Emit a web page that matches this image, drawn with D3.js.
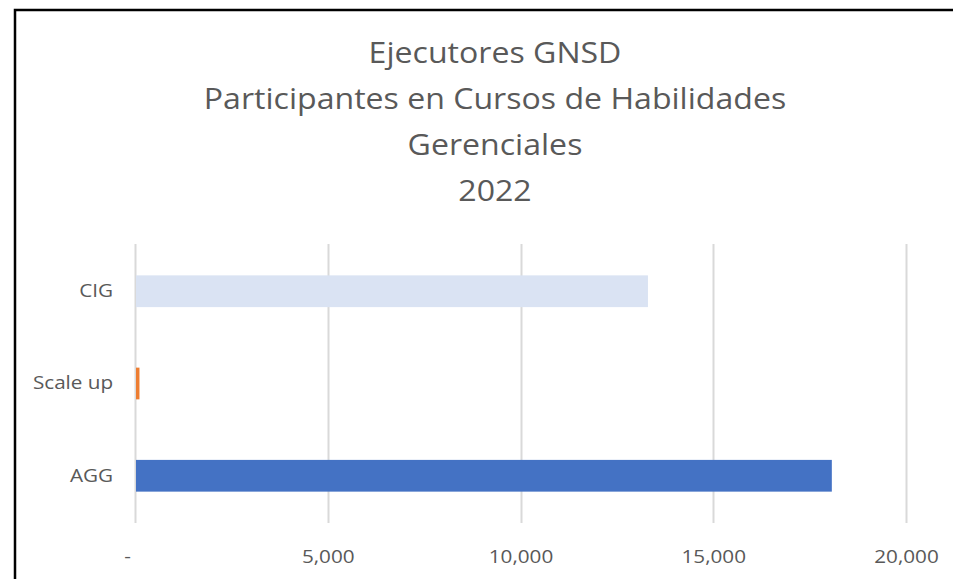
<!DOCTYPE html>
<html>
<head>
<meta charset="utf-8">
<script src="https://cdn.jsdelivr.net/npm/d3@7"></script>
<style>
  body { margin: 0; background: #fff; }
  svg { display: block; font-family: "Open Sans", "Noto Sans", sans-serif; }
</style>
</head>
<body>
<div id="chart"></div>
<script>
// Chart data
const titleLines = ['Ejecutores GNSD', 'Participantes en Cursos de Habilidades', 'Gerenciales', '2022'];
const categories = ['CIG', 'Scale up', 'AGG'];
const values = [13280, 90, 18050];
const barColors = ['#DAE3F3', '#ED7D31', '#4472C4'];
const tickValues = [0, 5000, 10000, 15000, 20000];

const width = 953, height = 579;
const margin = { top: 244, right: 47, bottom: 56, left: 135 };
const innerW = width - margin.left - margin.right;
const innerH = height - margin.top - margin.bottom;
const textStretch = 1.15;

const svg = d3.select('#chart')
    .append('svg')
    .attr('width', width)
    .attr('height', height);

// frame (screenshot border)
svg.append('path')
    .attr('d', `M15,${height + 5} L15,10 L${width + 5},10`)
    .attr('fill', 'none')
    .attr('stroke', '#000')
    .attr('stroke-width', 2.5);

// Title
svg.append('g')
    .attr('transform', 'translate(495,0)')
    .selectAll('text')
    .data(titleLines)
    .enter()
    .append('text')
    .attr('x', 0)
    .attr('y', (d, i) => 63 + i * 46)
    .attr('text-anchor', 'middle')
    .attr('transform', 'scale(1.07,1)')
    .style('font-size', '30px')
    .style('fill', '#595959')
    .text(d => d);

const g = svg.append('g')
    .attr('transform', `translate(${margin.left},${margin.top})`);

const x = d3.scaleLinear()
    .domain([0, 20000])
    .range([0, innerW]);

const y = d3.scaleBand()
    .domain(categories)
    .range([0, innerH])
    .paddingInner(0.656)
    .paddingOuter(0.34);

// Gridlines
g.append('g')
    .selectAll('line')
    .data(tickValues)
    .enter()
    .append('line')
    .attr('x1', d => Math.round(x(d)) + 0.5)
    .attr('x2', d => Math.round(x(d)) + 0.5)
    .attr('y1', 0)
    .attr('y2', innerH)
    .attr('stroke', '#D9D9D9')
    .attr('stroke-width', 2);

// Bars
g.append('g')
    .selectAll('rect')
    .data(categories)
    .enter()
    .append('rect')
    .attr('x', x(0) + 1)
    .attr('y', d => y(d))
    .attr('width', (d, i) => x(values[i]))
    .attr('height', y.bandwidth())
    .attr('fill', (d, i) => barColors[i]);

// X axis labels
const xAxis = g.append('g')
    .attr('transform', `translate(0,${innerH})`)
    .call(d3.axisBottom(x)
        .tickValues(tickValues)
        .tickSize(0)
        .tickPadding(27)
        .tickFormat(d => d === 0 ? '-' : d3.format(',')(d)));
xAxis.select('.domain').remove();
xAxis.selectAll('text')
    .attr('transform', `scale(${textStretch},1)`)
    .style('font-size', '18px')
    .style('fill', '#595959')
    .style('font-family', '"Open Sans", "Noto Sans", sans-serif');
xAxis.select('.tick text').attr('x', -7);

// Y axis labels
const yAxis = g.append('g')
    .call(d3.axisLeft(y).tickSize(0).tickPadding(19));
yAxis.select('.domain').remove();
yAxis.selectAll('text')
    .attr('transform', `scale(${textStretch},1)`)
    .style('font-size', '18px')
    .style('fill', '#595959')
    .style('font-family', '"Open Sans", "Noto Sans", sans-serif');
</script>
</body>
</html>
